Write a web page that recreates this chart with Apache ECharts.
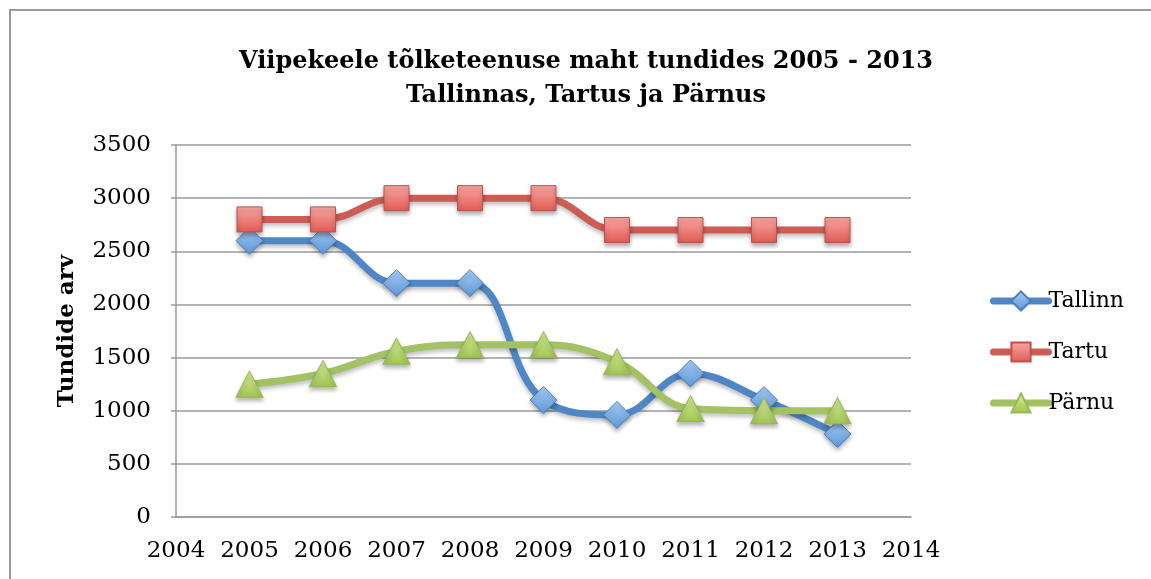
<!DOCTYPE html>
<html>
<head>
	<meta charset="utf-8">
	<title>Viipekeele tõlketeenuse maht</title>
	<style type="text/css">
		html, body { margin: 0; padding: 0; background: #fff; overflow: hidden; }
		#chart { width: 1151px; height: 579px; }
		#frame {
			position: absolute; left: 9px; top: 9px; width: 1200px; height: 700px;
			border-top: 2px solid #9a9a9a; border-left: 2px solid #9a9a9a;
			pointer-events: none;
		}
	</style>
</head>
<body>
	<div id="chart"></div>
	<div id="frame"></div>
	<script src="https://cdn.jsdelivr.net/npm/echarts@6/dist/echarts.min.js"></script>
	<script type="text/javascript">
	// values
	const YEARS = [2005, 2006, 2007, 2008, 2009, 2010, 2011, 2012, 2013];
	const TALLINN = [2600, 2600, 2200, 2200, 1100, 960, 1350, 1100, 780];
	const TARTU = [2800, 2800, 3000, 3000, 3000, 2700, 2700, 2700, 2700];
	const PARNU = [1250, 1350, 1560, 1620, 1620, 1460, 1020, 1000, 1000];
	const NAMES = ['Tallinn', 'Tartu', 'Pärnu'];

	const FONT = '"DejaVu Serif", "Liberation Serif", serif';

	function grad(top, bottom) {
		return new echarts.graphic.LinearGradient(0, 0, 0, 1, [
			{ offset: 0, color: top },
			{ offset: 1, color: bottom }
		]);
	}

	function makeSeries(name, values, lineColor, symbol, size, top, bottom, border) {
		return {
			name: name,
			type: 'line',
			smooth: 0.4,
			data: YEARS.map((y, i) => [y, values[i]]),
			symbol: symbol,
			symbolSize: size,
			color: lineColor,
			lineStyle: {
				width: 7,
				color: lineColor,
				cap: 'round',
				join: 'round',
				shadowColor: 'rgba(0,0,0,0.25)',
				shadowBlur: 4,
				shadowOffsetY: 3
			},
			itemStyle: {
				color: grad(top, bottom),
				borderColor: border,
				borderWidth: 1,
				shadowColor: 'rgba(0,0,0,0.3)',
				shadowBlur: 4,
				shadowOffsetY: 3
			},
			emphasis: { disabled: true }
		};
	}

	var myChart = echarts.init(document.getElementById('chart'));

	var option = {
		animation: false,
		title: {
			text: 'Viipekeele tõlketeenuse maht tundides 2005 - 2013\nTallinnas, Tartus ja Pärnus',
			left: 581,
			textAlign: 'center',
			top: 40,
			textStyle: {
				fontFamily: FONT,
				fontWeight: 'bold',
				fontSize: 24,
				lineHeight: 34,
				color: '#000'
			}
		},
		legend: {
			orient: 'vertical',
			left: 985,
			top: 285,
			itemWidth: 55,
			itemHeight: 24,
			itemGap: 29,
			data: NAMES,
			lineStyle: { width: 7, cap: 'round' },
			textStyle: {
				fontFamily: FONT,
				fontSize: 22,
				color: '#000',
				padding: [0, 0, 0, -5]
			}
		},
		grid: {
			left: 176,
			right: 240,
			top: 145,
			bottom: 62,
			containLabel: false
		},
		xAxis: {
			type: 'value',
			min: 2004,
			max: 2014,
			interval: 1,
			axisLine: { show: true, lineStyle: { color: '#9a9a9a', width: 1.5 } },
			axisTick: { show: false },
			splitLine: { show: false },
			axisLabel: {
				margin: 23,
				fontFamily: FONT,
				fontSize: 23,
				color: '#000',
				formatter: v => String(v)
			}
		},
		yAxis: {
			type: 'value',
			min: 0,
			max: 3500,
			interval: 500,
			name: 'Tundide arv',
			nameLocation: 'middle',
			nameGap: 97,
			nameRotate: 90,
			nameTextStyle: {
				fontFamily: FONT,
				fontWeight: 'bold',
				fontSize: 23,
				color: '#000'
			},
			axisLine: { show: true, lineStyle: { color: '#9a9a9a', width: 1.5 } },
			axisTick: { show: true, length: 5, lineStyle: { color: '#9a9a9a', width: 1.5 } },
			splitLine: { show: true, lineStyle: { color: '#9a9a9a', width: 1.5 } },
			axisLabel: {
				margin: 25,
				fontFamily: FONT,
				fontSize: 23,
				color: '#000',
				formatter: v => String(v)
			}
		},
		series: [
			makeSeries(NAMES[0], TALLINN, '#4f86c6', 'diamond', [27, 27], '#a9cdf6', '#5b95d6', '#4a7ebb'),
			makeSeries(NAMES[1], TARTU, '#cd5c55', 'rect', [25, 25], '#f8a9a6', '#e05a53', '#c0504d'),
			makeSeries(NAMES[2], PARNU, '#a2c263', 'triangle', [27, 26], '#d9ee9e', '#9fc451', '#98b954')
		]
	};

	myChart.setOption(option);
	</script>
</body>
</html>
